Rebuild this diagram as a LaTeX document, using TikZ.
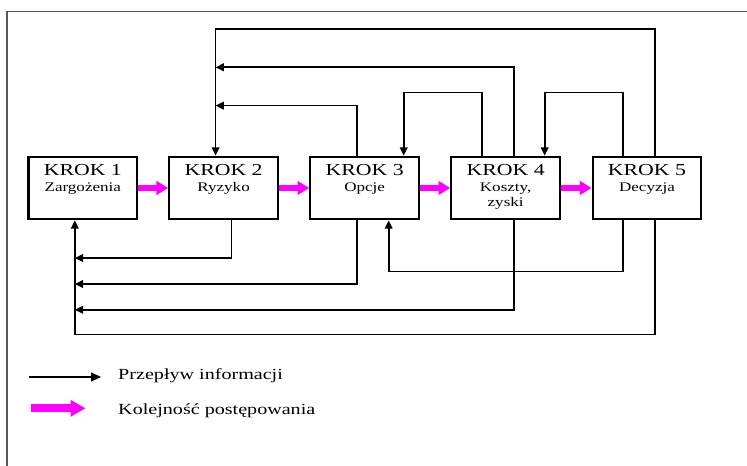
\documentclass[tikz,border=0pt]{standalone}
\usepackage{fontspec}
\setmainfont{Liberation Serif}[FakeStretch=1.3]
\usetikzlibrary{arrows.meta}
\definecolor{flowpink}{RGB}{255,0,255}
\newcommand{\krokhead}[1]{{\fontsize{14.3}{15.4}\selectfont KROK #1}}

\begin{document}
\begin{tikzpicture}[>={Triangle[length=7pt,width=6.5pt]},box/.style={draw,line width=1.8pt,align=center,minimum width=3.26cm,minimum height=1.88cm,font=\fontsize{11.2}{13.3}\selectfont},info/.style={->,line width=1.5pt},flow/.style={-{Triangle[length=10pt,width=11.4pt]},line width=5.7pt,flowpink},keytext/.style={anchor=base west,inner sep=0pt,font=\fontsize{13.2}{15}\selectfont},frame/.style={draw=black!65,line width=1.2pt}]
\useasboundingbox (0,0) rectangle (22.41,-13.98);
\draw[frame] (0.21,-13.98) |- (22.41,-0.35);
\node[box] (zagr) at (2.484,-5.64) {\krokhead{1}\\Zargożenia\\\strut}; \node[box] (ryzyko) at (6.708,-5.64) {\krokhead{2}\\Ryzyko\\\strut}; \node[box] (opcje) at (10.94,-5.64) {\krokhead{3}\\Opcje\\\strut};
\node[box] (koszty) at (15.17,-5.64) {\krokhead{4}\\Koszty,\\zyski\strut}; \node[box] (decyzja) at (19.41,-5.64) {\krokhead{5}\\Decyzja\\\strut};
\draw[flow] (zagr)--(ryzyko); \draw[flow] (ryzyko)--(opcje); \draw[flow] (opcje)--(koszty); \draw[flow] (koszty)--(decyzja);
\draw[info] ([xshift=0.24cm]decyzja.north) |- ([xshift=-0.24cm,yshift=3.79cm]ryzyko.north) -- ([xshift=-0.24cm]ryzyko.north);
\draw[info] ([xshift=0.24cm]koszty.north) |- ([xshift=-0.24cm,yshift=2.65cm]ryzyko.north); \draw[info] ([xshift=-0.24cm]opcje.north) |- ([xshift=-0.24cm,yshift=1.5cm]ryzyko.north);
\draw[info] ([xshift=-0.72cm]koszty.north) -- ++(0,1.89) -| ([xshift=1.17cm]opcje.north); \draw[info] ([xshift=-0.72cm]decyzja.north) -- ++(0,1.89) -| ([xshift=1.17cm]koszty.north);
\draw[info] ([xshift=0.24cm]decyzja.south) |- ([xshift=-0.24cm,yshift=-3.42cm]zagr.south) -- ([xshift=-0.24cm]zagr.south);
\draw[info] ([xshift=0.24cm]ryzyko.south) |- ([xshift=-0.24cm,yshift=-1.13cm]zagr.south); \draw[info] ([xshift=-0.24cm]opcje.south) |- ([xshift=-0.24cm,yshift=-1.91cm]zagr.south);
\draw[info] ([xshift=0.24cm]koszty.south) |- ([xshift=-0.24cm,yshift=-2.68cm]zagr.south); \draw[info] ([xshift=-0.72cm]decyzja.south) -- ++(0,-1.53) -| ([xshift=0.72cm]opcje.south);
\coordinate (infoa) at (0.88,-11.31); \coordinate (infob) at (3.03,-11.31); \coordinate (flowa) at (0.92,-12.25); \coordinate (flowb) at (2.57,-12.25);
\draw[-{Triangle[length=8.5pt,width=7.7pt]},line width=0.9pt] (infoa)--(infob); \draw[flow,line width=6.8pt,-{Triangle[length=12.8pt,width=13.4pt]}] (flowa)--(flowb);
\node[keytext] (infokey) at (3.54,-11.38) {Przepływ informacji}; \node[keytext] (flowkey) at (3.54,-12.42) {Kolejność postępowania};
\end{tikzpicture}
\end{document}
